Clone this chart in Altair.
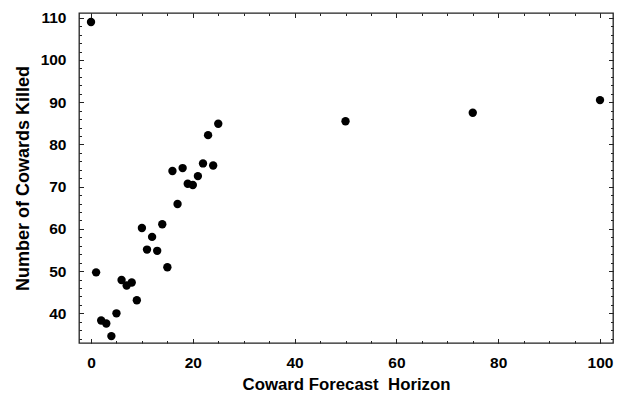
import altair as alt
import pandas as pd

# Data
horizon = [0, 1, 2, 3, 4, 5, 6, 7, 8, 9, 10, 11, 12, 13, 14, 15, 16, 17, 18, 19,
           20, 21, 22, 23, 24, 25, 50, 75, 100]
killed = [109.0, 49.7, 38.3, 37.6, 34.6, 40.0, 47.9, 46.6, 47.3, 43.1, 60.2, 55.1,
          58.1, 54.8, 61.1, 50.9, 73.7, 65.9, 74.4, 70.7, 70.4, 72.5, 75.5, 82.2,
          75.0, 84.9, 85.5, 87.5, 90.5]

x_major = [0, 20, 40, 60, 80, 100]
x_minor = list(range(0, 101, 5))
y_major = [40, 50, 60, 70, 80, 90, 100, 110]
y_minor = list(range(34, 111, 2))

df = pd.DataFrame({"h": horizon, "k": killed})

W, H = 534, 330
FONT = "Liberation Sans"
DARK = "#222222"

xs = alt.Scale(domain=[-2.36, 102.55], nice=False, zero=False)
ys = alt.Scale(domain=[32.97, 111.13], nice=False, zero=False)

base = alt.Chart(df)

points = base.mark_circle(size=70, color="black", opacity=1).encode(
    x=alt.X("h:Q", scale=xs, axis=alt.Axis(
        orient="bottom", values=x_major, ticks=False, domain=False, grid=False,
        labelFont=FONT, labelFontSize=15.5, labelFontWeight="bold", labelColor="black",
        labelBaseline="alphabetic", labelPadding=24.7,
        title="Coward Forecast\u00a0 Horizon", titleFont=FONT, titleFontSize=16.8,
        titleFontWeight="bold", titleColor="black", titleBaseline="alphabetic",
        titleY=46)),
    y=alt.Y("k:Q", scale=ys, axis=alt.Axis(
        orient="left", values=y_major, ticks=False, domain=False, grid=False,
        labelFont=FONT, labelFontSize=15.5, labelFontWeight="bold", labelColor="black",
        labelPadding=13,
        title="Number of Cowards Killed", titleFont=FONT, titleFontSize=18,
        titleFontWeight="bold", titleColor="black", titleBaseline="alphabetic",
        titleAngle=270, titleX=-51)),
)


def tick_layer(xorient, yorient, xvals, yvals, size):
    return base.mark_circle(opacity=0).encode(
        x=alt.X("h:Q", scale=xs, axis=alt.Axis(
            orient=xorient, offset=-H, values=xvals, labels=False, domain=False,
            grid=False, title="", tickSize=size, tickColor=DARK, tickWidth=1)),
        y=alt.Y("k:Q", scale=ys, axis=alt.Axis(
            orient=yorient, offset=-W, values=yvals, labels=False, domain=False,
            grid=False, title="", tickSize=size, tickColor=DARK, tickWidth=1)),
    )


layers = [
    tick_layer("top", "right", x_minor, y_minor, 2.5),
    tick_layer("bottom", "left", x_minor, y_minor, 2.5),
    tick_layer("top", "right", x_major, y_major, 4.5),
    tick_layer("bottom", "left", x_major, y_major, 4.5),
    points,
]

chart = alt.layer(*layers).resolve_axis(
    x="independent", y="independent"
).properties(
    width=W, height=H,
    autosize=alt.AutoSizeParams(type="none"),
    padding={"left": 79, "top": 13, "right": 8, "bottom": 51},
    background="white",
).configure_view(
    stroke=DARK, strokeWidth=1.3
)

chart.save("out.html", embed_options={"renderer": "svg", "actions": False})
